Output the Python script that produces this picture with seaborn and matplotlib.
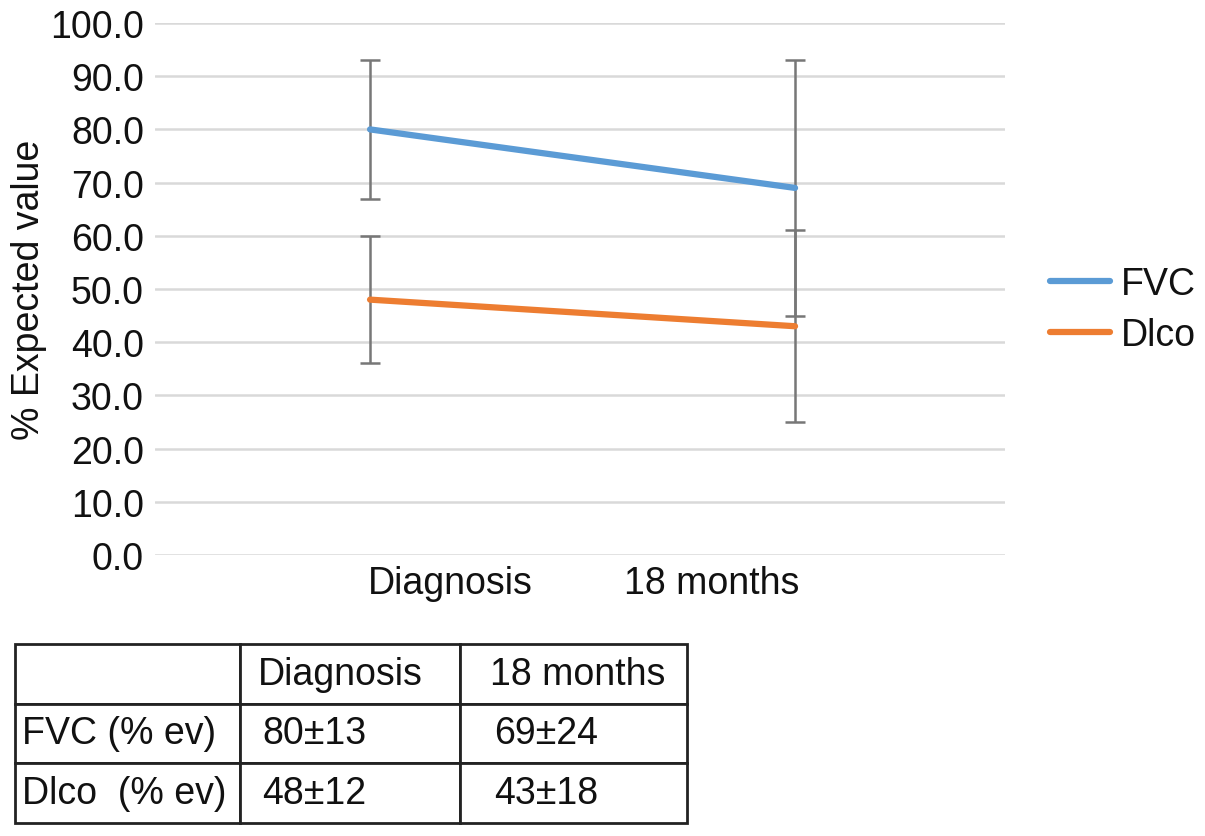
import pandas as pd
import matplotlib.pyplot as plt
import seaborn as sns

# Data
timepoints = ['Diagnosis', '18 months']
series_names = ['FVC', 'Dlco']
fvc_mean = [80, 69]
fvc_sd = [13, 24]
dlco_mean = [48, 43]
dlco_sd = [12, 18]
row_labels = ['FVC (% ev)', 'Dlco  (% ev)']

blue = '#5B9BD5'
orange = '#ED7D31'

df = pd.DataFrame({
    'x': [0, 1, 0, 1],
    'value': fvc_mean + dlco_mean,
    'sd': fvc_sd + dlco_sd,
    'Series': [series_names[0]] * 2 + [series_names[1]] * 2,
})

sns.set_style('white')
plt.rcParams['font.family'] = ['Liberation Sans', 'DejaVu Sans']
plt.rcParams['text.color'] = '#111111'
plt.rcParams['xtick.color'] = '#111111'
plt.rcParams['ytick.color'] = '#111111'
plt.rcParams['axes.labelcolor'] = '#111111'
fs = 27

fig = plt.figure(figsize=(12.05, 8.37), dpi=100)
ax = fig.add_axes([155 / 1205, 1 - 556 / 837, 850 / 1205, 532 / 837])

# Error bars (grey) under the lines
ax.errorbar(df['x'], df['value'], yerr=df['sd'], fmt='none', ecolor='#777777',
            elinewidth=1.8, capsize=7, capthick=1.8, zorder=2)

sns.lineplot(data=df, x='x', y='value', hue='Series', palette=[blue, orange],
             linewidth=4.5, ax=ax, zorder=3)

ax.set_xlim(-0.506, 1.494)
ax.set_ylim(0, 100)
ax.set_yticks(range(0, 101, 10))
ax.set_yticklabels([f'{v:.1f}' for v in range(0, 101, 10)], fontsize=fs)
ax.set_xticks([0.188, 0.804])
ax.set_xticklabels(timepoints, fontsize=fs)
ax.tick_params(axis='both', length=0)
ax.tick_params(axis='y', pad=8)
ax.tick_params(axis='x', pad=7)
ax.set_xlabel('')
ax.set_ylabel('% Expected value', fontsize=fs, labelpad=2)
ax.yaxis.grid(True, color='#d9d9d9', linewidth=1.8)
ax.set_axisbelow(True)
for s in ax.spines.values():
    s.set_visible(False)

leg = ax.legend(loc='center left', bbox_to_anchor=(1.053, 0.462), frameon=False,
                fontsize=fs, handlelength=1.6, handletextpad=0.3,
                labelspacing=0.4, borderaxespad=0, borderpad=0)
for line in leg.get_lines():
    line.set_linewidth(4.5)

# Summary table
cells = [['', timepoints[0], timepoints[1]]]
for name, m, sd in zip(row_labels, [fvc_mean, dlco_mean], [fvc_sd, dlco_sd]):
    cells.append([name, f'{m[0]}\u00b1{sd[0]}', f'{m[1]}\u00b1{sd[1]}'])

tax = fig.add_axes([15 / 1205, 1 - 824 / 837, 672 / 1205, 179 / 837])
tax.axis('off')
widths = [225 / 672, 220 / 672, 227 / 672]
tbl = tax.table(cellText=cells, cellLoc='left', colWidths=widths, bbox=[0, 0, 1, 1])
tbl.auto_set_font_size(False)
pads = [0.03, 0.1, 0.15]
for (r, c), cell in tbl.get_celld().items():
    cell.set_linewidth(2)
    cell.set_edgecolor('#222222')
    cell.PAD = pads[c]
    if r == 0:
        cell.PAD = [0.03, 0.08, 0.13][c]
    cell.get_text().set_fontsize(fs)

fig.savefig('out.png', dpi=100)
